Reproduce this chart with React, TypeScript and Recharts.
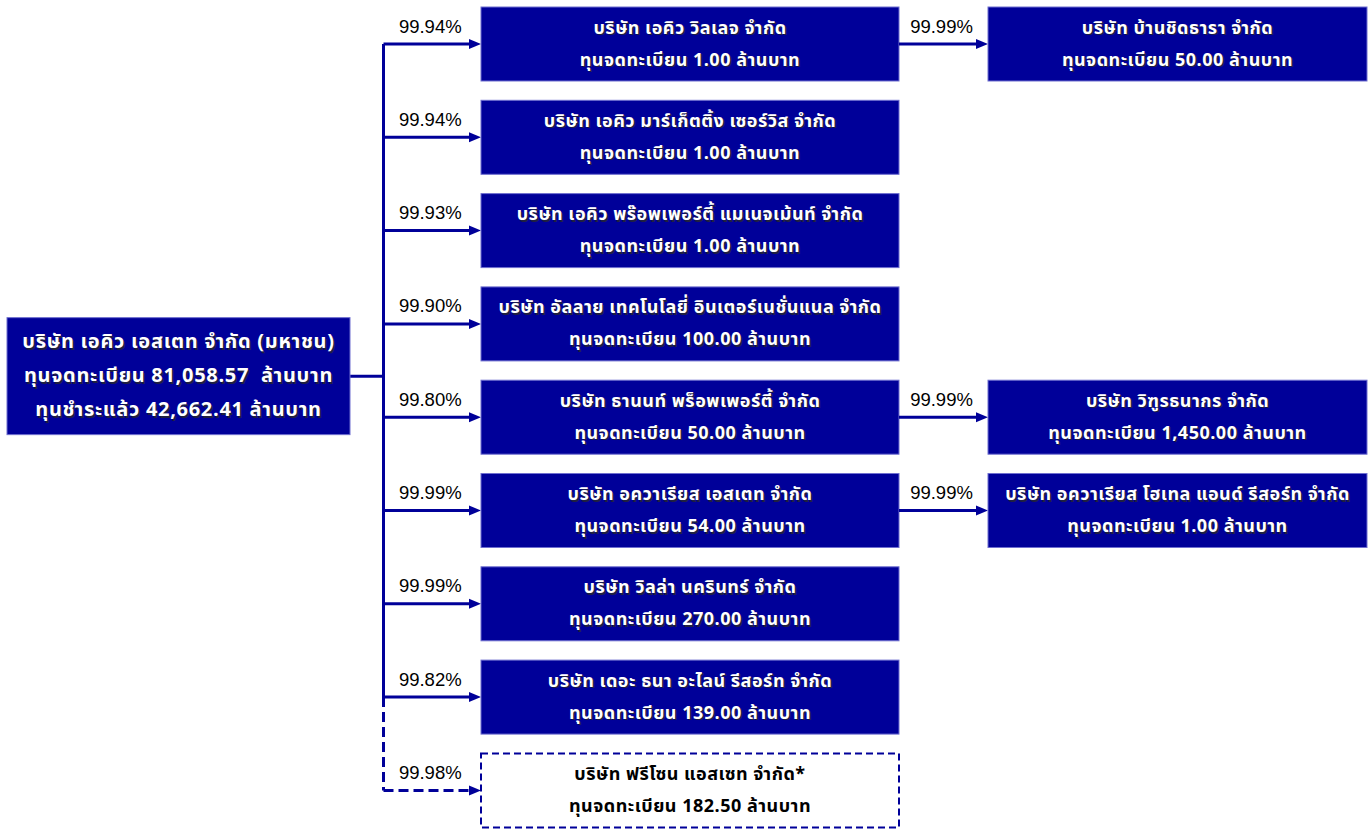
import React from "react"
import { ScatterChart, Scatter, XAxis, YAxis, ReferenceLine } from "recharts"

// company tree, in the order the boxes read top to bottom
const COMPANIES = [
  "บริษัท เอคิว เอสเตท จำกัด (มหาชน)",
  "บริษัท เอคิว วิลเลจ จำกัด",
  "บริษัท บ้านชิดธารา จำกัด",
  "บริษัท เอคิว มาร์เก็ตติ้ง เซอร์วิส จำกัด",
  "บริษัท เอคิว พร๊อพเพอร์ตี้ แมเนจเม้นท์ จำกัด",
  "บริษัท อัลลาย เทคโนโลยี่ อินเตอร์เนชั่นแนล จำกัด",
  "บริษัท ธานนท์ พร็อพเพอร์ตี้ จำกัด",
  "บริษัท วิฑูรธนากร จำกัด",
  "บริษัท อควาเรียส เอสเตท จำกัด",
  "บริษัท อควาเรียส โฮเทล แอนด์ รีสอร์ท จำกัด",
  "บริษัท วิลล่า นครินทร์ จำกัด",
  "บริษัท เดอะ ธนา อะไลน์ รีสอร์ท จำกัด",
  "บริษัท ฟรีโซน แอสเซท จำกัด*",
]
const REGISTERED = [
  "81,058.57 ", "1.00", "50.00", "1.00", "1.00", "100.00", "50.00",
  "1,450.00", "54.00", "1.00", "270.00", "139.00", "182.50",
]
const PAID_UP = "42,662.41"
const STAKES = [
  "", "99.94%", "99.99%", "99.94%", "99.93%", "99.90%", "99.80%",
  "99.99%", "99.99%", "99.99%", "99.99%", "99.82%", "99.98%",
]
const PARENTS = [-1, 0, 1, 0, 0, 0, 0, 6, 0, 8, 0, 0, 0]
const PENDING = [12]

// layout
const W = 1372
const H = 830
const NAVY = "#000099"
const COL_LEFT = [7, 481, 988]
const COL_WIDTH = [343, 418, 379]
const BOX_H = [117, 74, 74]
const TRUNK_X = 383.5
const ROOT_ROW = 3.56
const ROW_TOP = 44
const ROW_STEP = 93.3
const Y_DOMAIN = [-ROW_TOP / ROW_STEP, (H - ROW_TOP) / ROW_STEP]
const THAI = "Tahoma, 'Noto Sans Thai', 'Noto Sans Thai Looped', 'Loma', 'Garuda', 'Liberation Sans', sans-serif"
const LATIN = "'Liberation Sans', Arial, sans-serif"

const depthOf = (i: number): number => (PARENTS[i] < 0 ? 0 : depthOf(PARENTS[i]) + 1)

const rows: number[] = []
let next = 0
PARENTS.forEach((p, i) => {
  const d = depthOf(i)
  if (d === 0) rows.push(ROOT_ROW)
  else if (d === 1) rows.push(next++)
  else rows.push(rows[p])
})

const nodes = COMPANIES.map((name, i) => ({
  id: i,
  name,
  depth: depthOf(i),
  x: COL_LEFT[depthOf(i)],
  row: rows[i],
}))

const firstLevel = nodes.filter((n) => n.depth === 1)
const lastSolid = Math.max(...firstLevel.filter((n) => !PENDING.includes(n.id)).map((n) => n.row))
const lastRow = Math.max(...firstLevel.map((n) => n.row))

function ShadowText({ x, y, children, size, spacing, fill, shadow }: any) {
  const common = {
    textAnchor: "middle" as const,
    dominantBaseline: "central" as const,
    fontFamily: THAI,
    fontSize: size,
    fontWeight: "bold",
    letterSpacing: spacing,
    style: { whiteSpace: "pre" as const },
  }
  return (
    <g>
      {shadow && (
        <text x={x + 1.5} y={y + 1.5} {...common} fill="#202040">
          {children}
        </text>
      )}
      <text x={x} y={y} {...common} fill={fill}>
        {children}
      </text>
    </g>
  )
}

function CompanyBox(props: any) {
  const { cx, cy, payload } = props
  const i = payload.id
  const d = payload.depth
  const w = COL_WIDTH[d]
  const h = BOX_H[d]
  const pending = PENDING.includes(i)
  const mid = cx + w / 2
  const textFill = pending ? "#000000" : "#ffffff"

  // incoming connector
  let connector = null
  if (d > 0) {
    const from = d === 1 ? TRUNK_X : COL_LEFT[d - 1] + COL_WIDTH[d - 1]
    const gap = cx - from
    connector = (
      <g>
        <line x1={from} y1={cy} x2={cx - 10} y2={cy} stroke={NAVY} strokeWidth={3}
          strokeDasharray={pending ? "10 5" : undefined} />
        <polygon points={`${cx},${cy} ${cx - 12},${cy - 5} ${cx - 12},${cy + 5}`} fill={NAVY} />
        <text x={from + gap / 2 - 2} y={cy - 18} textAnchor="middle" dominantBaseline="central"
          fontFamily={LATIN} fontSize={18.5} fill="#000000">
          {STAKES[i]}
        </text>
      </g>
    )
  }

  const lines =
    d === 0
      ? [payload.name, `ทุนจดทะเบียน ${REGISTERED[i]} ล้านบาท`, `ทุนชำระแล้ว ${PAID_UP} ล้านบาท`]
      : [payload.name, `ทุนจดทะเบียน ${REGISTERED[i]} ล้านบาท`]
  const step = d === 0 ? 34 : 32
  const size = d === 0 ? 20 : 18
  const spacing = d === 0 ? 0.7 : 0.5

  return (
    <g>
      {connector}
      <rect x={cx} y={cy - h / 2} width={w} height={h}
        fill={pending ? "#ffffff" : NAVY}
        stroke={pending ? NAVY : "#6f6fd0"}
        strokeWidth={pending ? 2 : 1}
        strokeDasharray={pending ? "7 4" : undefined} />
      {lines.map((t, k) => (
        <ShadowText key={k} x={mid} y={cy + (k - (lines.length - 1) / 2) * step}
          size={size} spacing={spacing} fill={textFill} shadow={!pending}>
          {t}
        </ShadowText>
      ))}
    </g>
  )
}

export default function App() {
  return (
    <div style={{ position: "absolute", left: 0, top: 0, width: W, height: H, background: "#ffffff" }}>
      <ScatterChart width={W} height={H} margin={{ top: 0, right: 0, bottom: 0, left: 0 }}>
        <XAxis type="number" dataKey="x" domain={[0, W]} allowDataOverflow hide />
        <YAxis type="number" dataKey="row" domain={Y_DOMAIN} allowDataOverflow reversed hide />
        <ReferenceLine segment={[{ x: COL_LEFT[0] + COL_WIDTH[0], y: ROOT_ROW }, { x: TRUNK_X, y: ROOT_ROW }]}
          stroke={NAVY} strokeWidth={3} />
        <ReferenceLine segment={[{ x: TRUNK_X, y: 0 }, { x: TRUNK_X, y: lastSolid }]}
          stroke={NAVY} strokeWidth={3} />
        <ReferenceLine segment={[{ x: TRUNK_X, y: lastSolid }, { x: TRUNK_X, y: lastRow }]}
          stroke={NAVY} strokeWidth={3} strokeDasharray="10 5" />
        <Scatter data={nodes} shape={CompanyBox} isAnimationActive={false} />
      </ScatterChart>
    </div>
  )
}
